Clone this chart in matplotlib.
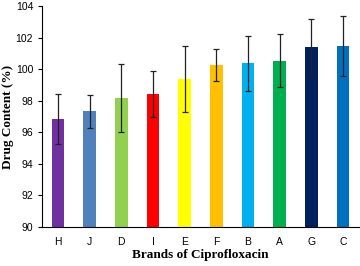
import matplotlib.pyplot as plt
import numpy as np

brands = ["H", "J", "D", "I", "E", "F", "B", "A", "G", "C"]
content = [96.85, 97.32, 98.15, 98.45, 99.37, 100.26, 100.38, 100.54, 101.38, 101.45]
errors = [1.6, 1.05, 2.15, 1.45, 2.1, 1.0, 1.75, 1.7, 1.8, 1.9]
colors = ["#7030A0", "#4F81BD", "#92D050", "#FF0000", "#FFFF00",
          "#FFC000", "#00B0F0", "#00B050", "#002060", "#0070C0"]

fig = plt.figure(figsize=(3.6, 2.66), dpi=100)
ax = fig.add_axes([0.117, 0.147, 0.88, 0.83])

x = np.arange(len(brands))
ax.bar(x, np.array(content) - 90, bottom=90, width=0.4, color=colors,
       yerr=errors, error_kw=dict(ecolor="#222222", elinewidth=0.9, capsize=2.5, capthick=0.9))

ax.set_ylim(90, 104)
ax.set_xlim(-0.5, 9.5)
ax.set_yticks(range(90, 105, 2))
ax.set_xticks(x)
ax.set_xticklabels(brands)
ax.spines["top"].set_visible(False)
ax.spines["right"].set_visible(False)
ax.tick_params(axis="x", length=0, labelsize=7.5, pad=7)
ax.tick_params(axis="y", length=3, labelsize=7.5, direction="out")
for lab in ax.get_xticklabels() + ax.get_yticklabels():
    lab.set_family("Liberation Sans")

ax.set_xlabel("Brands of Ciprofloxacin", family="Liberation Serif", weight="bold", fontsize=9.5, labelpad=2)
ax.set_ylabel("Drug Content (%)", family="Liberation Serif", weight="bold", fontsize=9.5)
ax.yaxis.set_label_coords(-0.088, 0.5)

fig.savefig("out.png", dpi=100)
